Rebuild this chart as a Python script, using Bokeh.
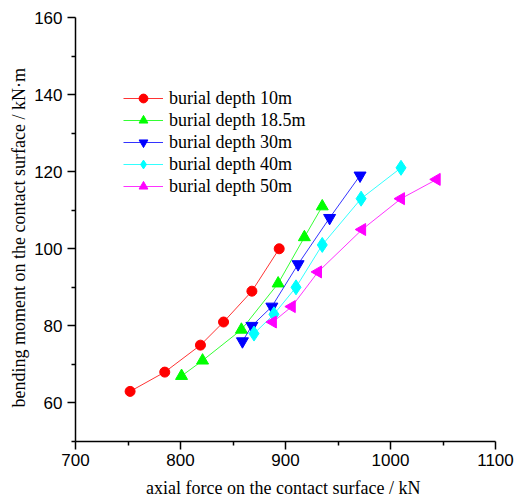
import math
from bokeh.plotting import figure
from bokeh.models import FixedTicker, Range1d, Legend, LegendItem, Title
from bokeh.embed import file_html
from bokeh.resources import INLINE

# data
d10_x = [752, 785, 819, 841, 868, 894]
d10_y = [63, 68, 75, 81, 89, 100]
d185_x = [801, 821, 858, 893, 918, 935]
d185_y = [67, 71, 79, 91, 103, 111]
d30_x = [859, 868, 887, 912, 942, 971]
d30_y = [76, 80, 85, 96, 108, 119]
d40_x = [870, 889, 910, 935, 972, 1010]
d40_y = [78, 83, 90, 101, 113, 121]
d50_x = [888, 906, 931, 973, 1010, 1044]
d50_y = [81, 85, 94, 105, 113, 118]

labels = ["burial depth 10m", "burial depth 18.5m", "burial depth 30m",
          "burial depth 40m", "burial depth 50m"]
x_ticks = [700, 800, 900, 1000, 1100]
x_minor = [750, 850, 950, 1050]
y_ticks = [60, 80, 100, 120, 140, 160]
y_minor = [50, 70, 90, 110, 130, 150]
x_title = "axial force on the contact surface  / kN"
y_title = "bending moment on the contact surface / kN\u00b7m"

p = figure(width=516, height=503, output_backend="svg", toolbar_location=None,
           x_range=Range1d(700, 1100), y_range=Range1d(50, 160),
           min_border_left=75, min_border_right=21, min_border_top=17,
           min_border_bottom=62)
p.outline_line_color = None
p.xgrid.visible = False
p.ygrid.visible = False
p.background_fill_color = "white"

series = [
    (d10_x, d10_y, "#FF0000", "circle", 0, 10),
    (d185_x, d185_y, "#00FF00", "triangle", 0, 12),
    (d30_x, d30_y, "#0000FF", "inverted_triangle", 0, 12),
    (d40_x, d40_y, "#00FFFF", "diamond", 0, 15),
    (d50_x, d50_y, "#FF00FF", "triangle", math.pi / 2, 12),
]
items = []
for (xs, ys, c, m, ang, sz), lab in zip(series, labels):
    r1 = p.line(xs, ys, line_color=c, line_width=1, line_alpha=0.8)
    r2 = p.scatter(xs, ys, marker=m, size=sz, angle=ang, fill_color=c,
                   line_color=c)
    items.append(LegendItem(label=lab, renderers=[r1, r2]))

leg = Legend(items=items, location=(48, 244), glyph_width=40, glyph_height=22,
             label_height=22, spacing=0, padding=0, margin=0,
             label_standoff=6, border_line_color=None,
             background_fill_alpha=0,
             label_text_font="Liberation Serif", label_text_font_size="18px",
             label_text_color="black")
p.add_layout(leg, "center")

for ax, tk, mn in [(p.xaxis[0], x_ticks, x_minor), (p.yaxis[0], y_ticks, y_minor)]:
    ax.ticker = FixedTicker(ticks=tk, minor_ticks=mn)
    ax.axis_line_width = 1.5
    ax.axis_line_color = "black"
    ax.major_tick_line_width = 1.5
    ax.minor_tick_line_width = 1.5
    ax.major_tick_out = 8
    ax.major_tick_in = 0
    ax.minor_tick_out = 4
    ax.minor_tick_in = 0
    ax.major_label_text_font = "Liberation Sans"
    ax.major_label_text_font_size = "17px"
    ax.major_label_text_color = "black"

p.xaxis.major_label_standoff = 4
p.yaxis.major_label_standoff = 5

p.xaxis.axis_label = x_title
p.xaxis.axis_label_text_font = "Liberation Serif"
p.xaxis.axis_label_text_font_size = "18px"
p.xaxis.axis_label_text_font_style = "normal"
p.xaxis.axis_label_text_color = "black"
p.xaxis.axis_label_standoff = 9

p.add_layout(Title(text=y_title, align="left", offset=34, standoff=6,
                   text_font="Liberation Serif", text_font_size="18px",
                   text_font_style="normal", text_color="black"), "left")

open("out.html", "w").write(file_html(p, INLINE))
